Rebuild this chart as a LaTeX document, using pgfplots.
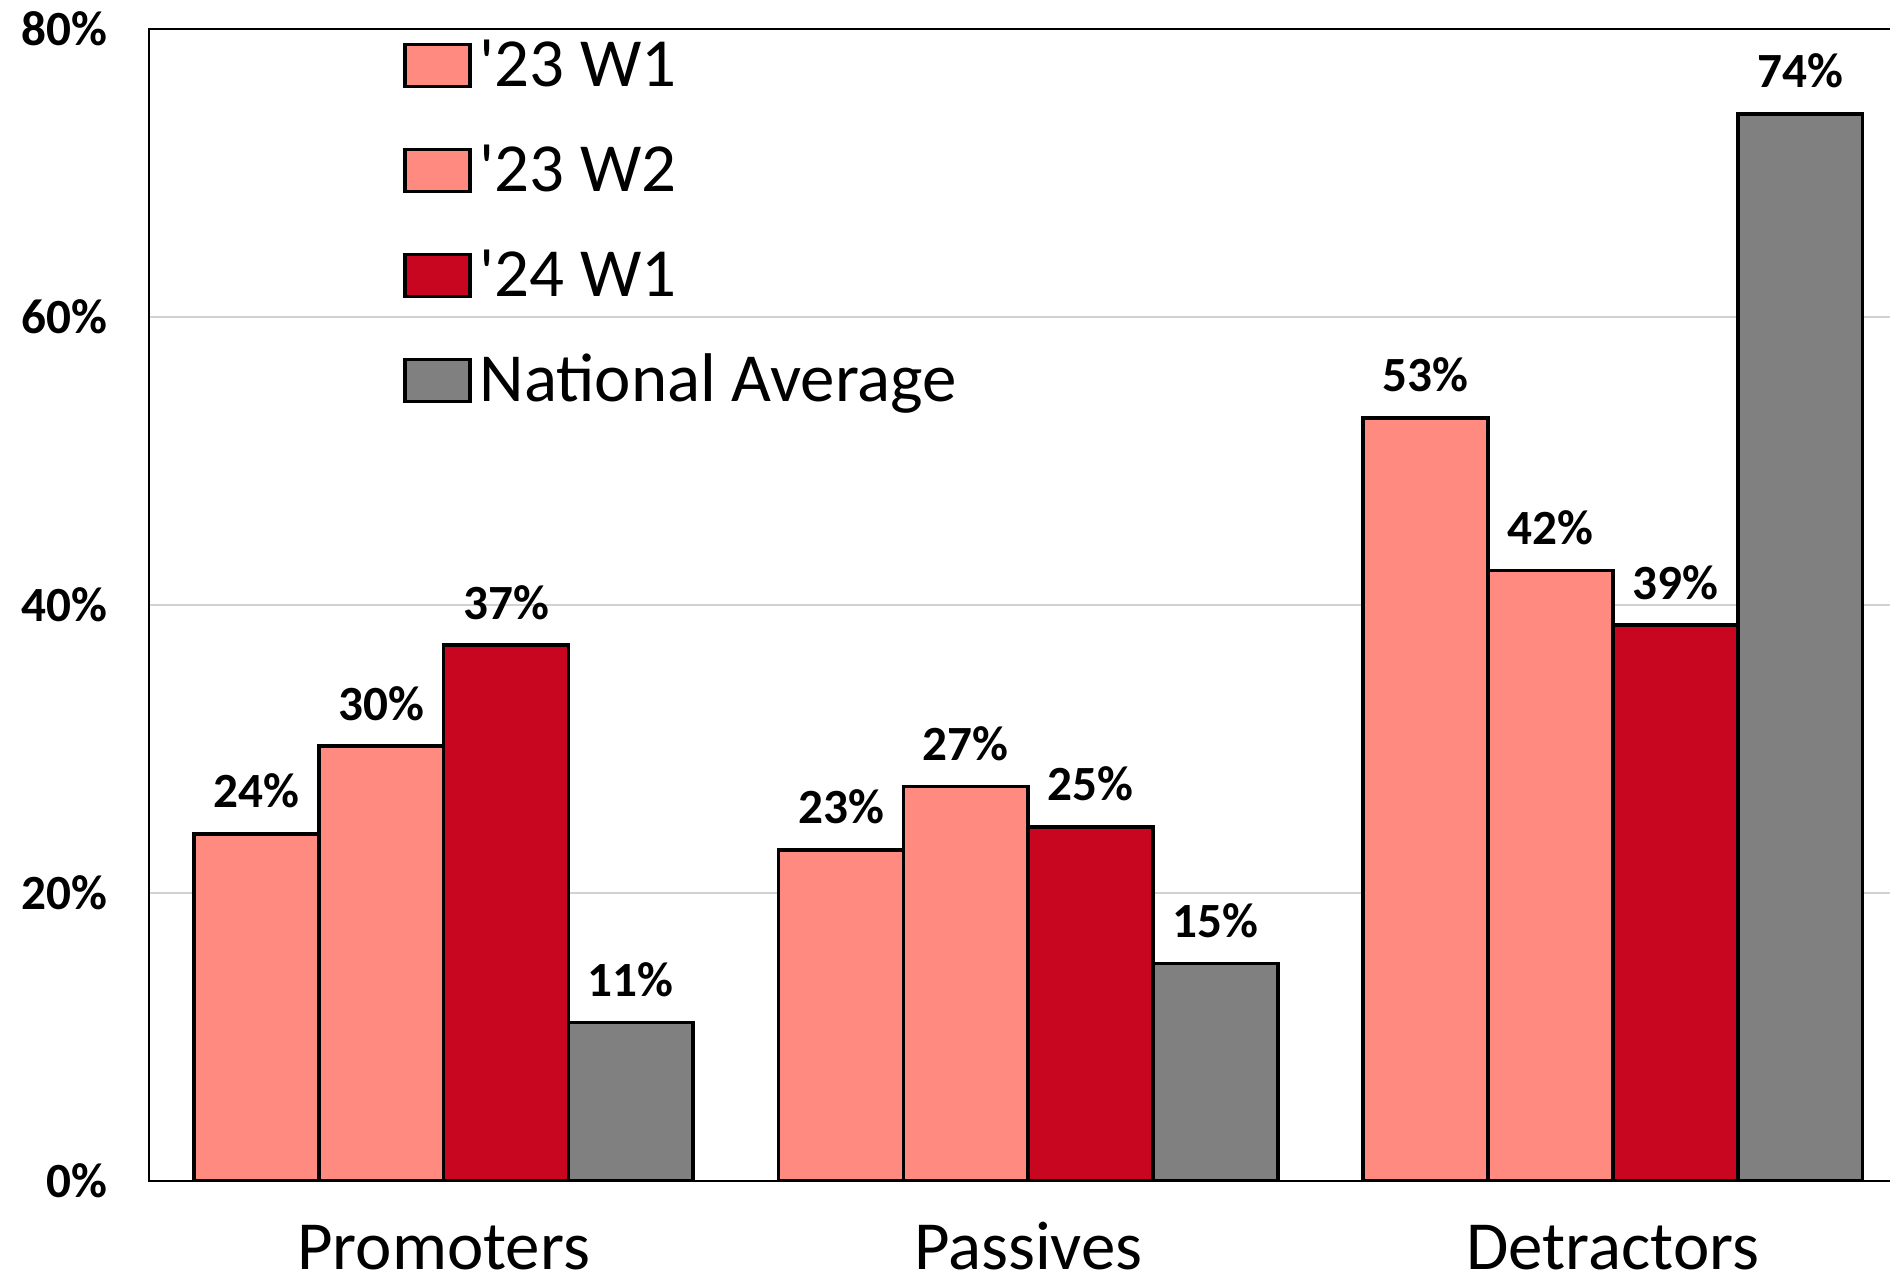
\documentclass[border=0pt]{standalone}
\usepackage{pgfplots}
\pgfplotsset{compat=1.18}
\usepackage{fontspec}
\setmainfont{Carlito}
\definecolor{salmon}{HTML}{FF8A80}
\definecolor{darkred}{HTML}{C8061F}
\definecolor{midgray}{HTML}{808080}
\begin{document}
\begin{tikzpicture}
\begin{axis}[
  name=ax,
  scale only axis,
  width=175.85mm, height=115.2mm,
  xmin=-0.504, xmax=2.504,
  ymin=0, ymax=80,
  ybar,
  bar width=0.2135,
  xtick={0,1,2},
  xticklabels={Promoters,Passives,Detractors},
  ytick={0,20,40,60,80},
  yticklabel={\pgfmathprintnumber{\tick}\%},
  /pgf/number format/assume math mode=true,
  major tick length=0pt,
  ymajorgrids,
  grid style={draw=gray!35, line width=0.55pt},
  axis line style={black, line width=0.6pt},
  yticklabel style={font=\fontsize{14}{16}\selectfont\bfseries, anchor=east, inner sep=0pt, xshift=-4.1mm},
  xticklabel style={font=\fontsize{19.6}{22}\selectfont, anchor=base, inner sep=0pt, yshift=-8.9mm},
  nodes near coords,
  point meta=explicit symbolic,
  every node near coord/.append style={font=\fontsize{14}{16}\selectfont\bfseries, anchor=base, inner sep=0pt, yshift=2.6mm},
  legend image code/.code={\draw[#1, line width=1.0pt] (0mm,-1.5mm) rectangle (6.5mm,2.7mm);},
  legend style={draw=none, fill=none, at={(0.1445,0.989)}, anchor=north west, inner sep=0pt, outer sep=0pt,
    font=\fontsize{19.6}{22}\selectfont, row sep=4.5mm,
    nodes={inner sep=0pt, text height=4.5mm, text depth=1.5mm},
    /tikz/every odd column/.style={column sep=0.8mm}},
  legend cell align=left,
]
\addplot[fill=salmon, draw=black, line width=1.05pt, bar shift=-0.32025]
  coordinates {(0,24.1) [24\%] (1,23.0) [23\%] (2,53.0) [53\%]};
\addplot[fill=salmon, draw=black, line width=1.05pt, bar shift=-0.10675]
  coordinates {(0,30.2) [30\%] (1,27.4) [27\%] (2,42.4) [42\%]};
\addplot[fill=darkred, draw=black, line width=1.05pt, bar shift=0.10675]
  coordinates {(0,37.2) [37\%] (1,24.6) [25\%] (2,38.6) [39\%]};
\addplot[fill=midgray, draw=black, line width=1.05pt, bar shift=0.32025]
  coordinates {(0,11.0) [11\%] (1,15.1) [15\%] (2,74.1) [74\%]};
\legend{\textquotesingle 23 W1, \textquotesingle 23 W2, \textquotesingle 24 W1, National Average}
\end{axis}
\pgfresetboundingbox
\useasboundingbox ([xshift=-14.9mm,yshift=-9.5mm]ax.south west) rectangle ([xshift=174.1mm,yshift=2.9mm]ax.north west);
\end{tikzpicture}
\end{document}
